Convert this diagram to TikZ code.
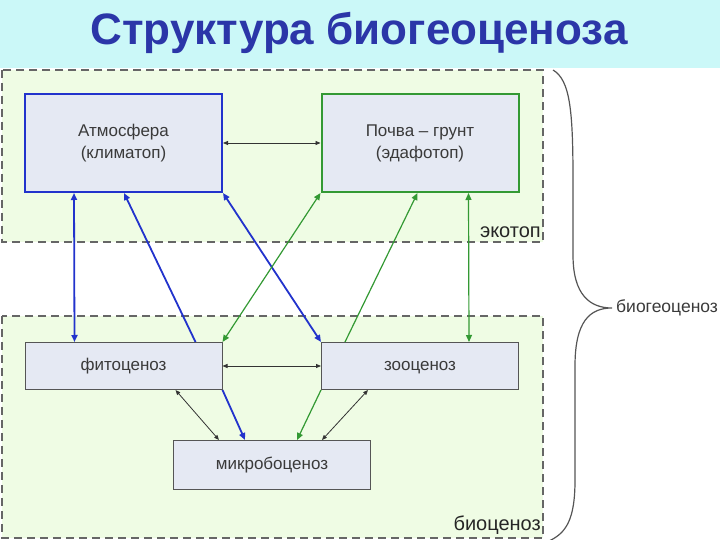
\documentclass[tikz,border=0pt]{standalone}
\usepackage{fontspec}
\setmainfont{Liberation Sans}
\usetikzlibrary{arrows.meta}
\definecolor{titleband}{HTML}{CBF8F8}
\definecolor{titleblue}{HTML}{2B36A8}
\definecolor{zonefill}{HTML}{EFFCE4}
\definecolor{zoneline}{HTML}{666666}
\definecolor{boxfill}{HTML}{E5E9F3}
\definecolor{boxgray}{HTML}{555555}
\definecolor{textgray}{HTML}{3A3A3A}
\definecolor{linkblue}{HTML}{2233CC}
\definecolor{linkgreen}{HTML}{339933}
\tikzset{
	zone/.style={draw=zoneline, fill=zonefill, line width=1.3pt, dash pattern=on 8pt off 5pt},
	unit/.style={draw=boxgray, fill=boxfill, line width=1pt, minimum width=197pt, minimum height=47pt,
		inner sep=0pt, align=center, text=textgray, font=\fontsize{17}{22}\selectfont},
	oneline/.style={unit, text height=12pt, text depth=4pt},
	blueunit/.style={unit, draw=linkblue, line width=2pt, minimum height=98pt},
	greenunit/.style={unit, draw=linkgreen, line width=2pt, minimum height=98pt},
	zonelabel/.style={text=black!85, font=\fontsize{20}{24}\selectfont},
	link/.style={line width=0.8pt, draw=black!80, {Triangle[length=5pt,width=4pt]}-{Triangle[length=5pt,width=4pt]}},
	bluelink/.style={line width=1.8pt, draw=linkblue, -{Triangle[length=7pt,width=6pt]}},
	greenlink/.style={line width=1.2pt, draw=linkgreen, -{Triangle[length=7pt,width=6pt]}},
}
\begin{document}
\begin{tikzpicture}[x=1pt,y=-1pt]
	\useasboundingbox (0,0) rectangle (720,540);
	\fill[titleband] (0,0) rectangle (720,68);
	\node[text=titleblue, font=\fontsize{44}{46}\selectfont\bfseries] (title) at (359,33) {Структура биогеоценоза};
	% zones
	\draw[zone] (2,70) rectangle (543,242);
	\draw[zone] (2,316) rectangle (543,538);
	\node[zonelabel, anchor=south east, inner sep=2pt] (ekotop) at (543,240) {экотоп};
	\node[zonelabel, anchor=south east, inner sep=2pt] (biocen) at (543,537) {биоценоз};
	% units
	\node[blueunit] (atm) at (123.5,143) {Атмосфера\\(климатоп)};
	\node[greenunit] (soil) at (420,143) {Почва – грунт\\(эдафотоп)};
	\node[oneline] (phyto) at (123.5,366) {фитоценоз};
	\node[oneline] (zoo) at (420,366) {зооценоз};
	\node[oneline, minimum height=49pt] (micro) at (272,465) {микробоценоз};
	% links
	\draw[link] (atm.east) -- (soil.west);
	\draw[link] (phyto.east) -- (zoo.west);
	\draw[bluelink, {Triangle[length=7pt,width=6pt]}-{Triangle[length=7pt,width=6pt]}] ([xshift=50pt]atm.south west) -- ([xshift=50pt]phyto.north west);
	\draw[bluelink] ([xshift=171pt]phyto.north west) -- ([xshift=100pt]atm.south west);
	\draw[bluelink, {Triangle[length=7pt,width=6pt]}-{Triangle[length=7pt,width=6pt]}] (atm.south east) -- (zoo.north west);
	\draw[greenlink, {Triangle[length=7pt,width=6pt]}-{Triangle[length=7pt,width=6pt]}] (soil.south west) -- (phyto.north east);
	\draw[greenlink] ([xshift=24pt]zoo.north west) -- ([xshift=97pt]soil.south west);
	\draw[greenlink, {Triangle[length=7pt,width=6pt]}-{Triangle[length=7pt,width=6pt]}] ([xshift=148pt]soil.south west) -- ([xshift=148pt]zoo.north west);
	\draw[link] ([xshift=-47pt]phyto.south east) -- ([xshift=46pt]micro.north west);
	\draw[bluelink] (phyto.south east) -- ([xshift=72pt]micro.north west);
	\draw[greenlink] (zoo.south west) -- ([xshift=124pt]micro.north west);
	\draw[link] ([xshift=47pt]zoo.south west) -- ([xshift=149pt]micro.north west);
	% brace
	\draw[boxgray, line width=1.2pt] (553,70) .. controls (570,80) and (573,110) .. (573,180) -- (573,255)
		.. controls (573,295) and (590,308) .. (612,308) coordinate (tip)
		.. controls (590,308) and (575,321) .. (575,366) -- (575,480)
		.. controls (575,520) and (566,533) .. (549,541);
	\node[anchor=west, inner sep=0pt, xshift=4pt, text=textgray, font=\fontsize{17.5}{20}\selectfont] (biogeo) at (tip) {биогеоценоз};
\end{tikzpicture}
\end{document}
